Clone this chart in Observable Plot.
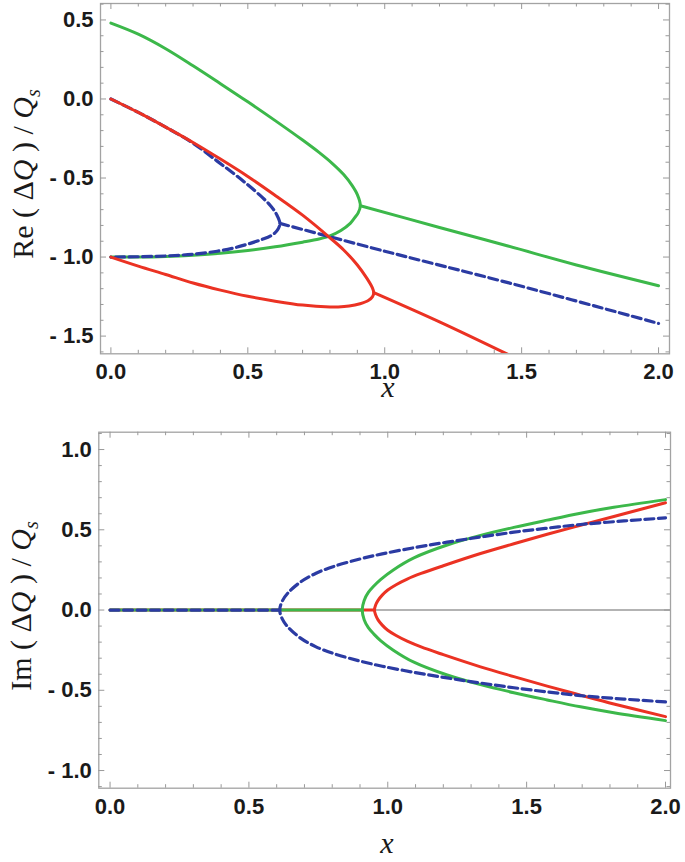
<!DOCTYPE html>
<html>
<head>
<meta charset="utf-8">
<script src="https://cdn.jsdelivr.net/npm/d3@7"></script>
<script src="https://cdn.jsdelivr.net/npm/@observablehq/plot@0.6"></script>
<style>
  html, body { margin: 0; padding: 0; background: #fff; }
  #chart { position: relative; width: 685px; height: 862px; }
  #chart svg { position: absolute; left: 0; }
</style>
</head>
<body>
<div id="chart"></div>
<script>
// ---------- tick values ----------
const xMajor = [0, 0.5, 1, 1.5, 2];
const xMinor = [0.1,0.2,0.3,0.4,0.6,0.7,0.8,0.9,1.1,1.2,1.3,1.4,1.6,1.7,1.8,1.9];
const reYMajor = [-1.5, -1, -0.5, 0, 0.5];
const reYMinor = [-1.6,-1.4,-1.3,-1.2,-1.1,-0.9,-0.8,-0.7,-0.6,-0.4,-0.3,-0.2,-0.1,0.1,0.2,0.3,0.4,0.6];
const imYMajor = [-1, -0.5, 0, 0.5, 1];
const imYMinor = [-1.1,-0.9,-0.8,-0.7,-0.6,-0.4,-0.3,-0.2,-0.1,0.1,0.2,0.3,0.4,0.6,0.7,0.8,0.9,1.1];

// ---------- Re(ΔQ)/Qs : [x, value] ----------
const reGreenLoop = [[0,0.48],[0.1,0.41],[0.2,0.318],[0.3,0.21],[0.4,0.097],[0.5,-0.018],[0.6,-0.137],[0.7,-0.26],[0.76,-0.338],[0.81,-0.41],[0.85,-0.478],[0.88,-0.545],[0.9,-0.605],[0.911,-0.675],[0.903,-0.72],[0.89,-0.752],[0.875,-0.785],[0.84,-0.832],[0.8,-0.866],[0.76,-0.886],[0.7,-0.906],[0.6,-0.935],[0.5,-0.958],[0.4,-0.976],[0.3,-0.988],[0.2,-0.996],[0.1,-1.0],[0,-1.0]];
const reGreenTail = [[0.911,-0.675],[1.2,-0.813],[1.45,-0.93],[1.7,-1.05],[2.0,-1.181]];
const reBlueLoop = [[0,0],[0.1,-0.085],[0.2,-0.178],[0.3,-0.28],[0.388,-0.393],[0.45,-0.474],[0.5,-0.543],[0.55,-0.618],[0.583,-0.675],[0.605,-0.73],[0.617,-0.787],[0.608,-0.83],[0.585,-0.865],[0.55,-0.89],[0.5,-0.918],[0.45,-0.942],[0.388,-0.963],[0.3,-0.982],[0.2,-0.993],[0.1,-0.998],[0,-1.0]];
const reBlueTail = [[0.617,-0.787],[1.0,-0.963],[1.45,-1.162],[2.0,-1.42]];
const reRedLoop = [[0,0],[0.1,-0.085],[0.2,-0.178],[0.3,-0.275],[0.4,-0.38],[0.5,-0.49],[0.6,-0.61],[0.7,-0.735],[0.8,-0.878],[0.85,-0.955],[0.9,-1.05],[0.935,-1.135],[0.955,-1.195],[0.96,-1.225],[0.955,-1.252],[0.94,-1.275],[0.91,-1.295],[0.87,-1.31],[0.83,-1.316],[0.8,-1.316],[0.7,-1.304],[0.6,-1.279],[0.5,-1.248],[0.4,-1.209],[0.3,-1.164],[0.2,-1.11],[0.1,-1.057],[0,-1.0]];
const reRedTail = [[0.96,-1.225],[1.2,-1.41],[1.45,-1.616]];

// ---------- Im(ΔQ)/Qs : [x, value] ----------
const imBlueZero = [[0,0],[0.611,0]];
const imBlueLoop = [[2.0,-0.572],[1.85,-0.555],[1.694,-0.533],[1.574,-0.51],[1.454,-0.484],[1.334,-0.455],[1.214,-0.423],[1.1,-0.39],[0.98,-0.35],[0.9,-0.318],[0.806,-0.272],[0.74,-0.228],[0.686,-0.175],[0.64,-0.105],[0.62,-0.055],[0.611,0],[0.62,0.055],[0.64,0.105],[0.686,0.175],[0.74,0.228],[0.806,0.272],[0.9,0.318],[0.98,0.35],[1.1,0.39],[1.214,0.423],[1.334,0.455],[1.454,0.485],[1.574,0.51],[1.694,0.533],[1.85,0.555],[2.0,0.574]];
const imGreenZero = [[0,0],[0.908,0]];
const imGreenLoop = [[2.0,-0.689],[1.814,-0.64],[1.694,-0.603],[1.574,-0.56],[1.454,-0.515],[1.334,-0.465],[1.214,-0.405],[1.094,-0.325],[1.02,-0.25],[0.974,-0.19],[0.95,-0.15],[0.93,-0.11],[0.915,-0.06],[0.908,0],[0.915,0.06],[0.93,0.11],[0.95,0.15],[0.974,0.19],[1.02,0.25],[1.094,0.325],[1.214,0.405],[1.334,0.465],[1.454,0.515],[1.574,0.56],[1.694,0.603],[1.814,0.64],[2.0,0.688]];
const imRedZero = [[0,0],[0.952,0]];
const imRedLoop = [[2.0,-0.664],[1.814,-0.585],[1.694,-0.53],[1.574,-0.474],[1.454,-0.415],[1.334,-0.354],[1.2,-0.278],[1.12,-0.23],[1.07,-0.194],[1.03,-0.159],[1.0,-0.126],[0.98,-0.094],[0.965,-0.061],[0.956,-0.03],[0.952,0],[0.956,0.03],[0.965,0.06],[0.98,0.093],[1.0,0.125],[1.03,0.158],[1.07,0.193],[1.12,0.228],[1.2,0.276],[1.334,0.352],[1.454,0.413],[1.574,0.472],[1.694,0.528],[1.814,0.583],[2.0,0.668]];

// ---------- styles ----------
const GREEN = "#3cb84a", RED = "#eb3223", BLUE = "#2b3ba3";
const FRAME = "#a3a3a3", TICK = "#999999";
const fmt = d => d < 0 ? "- " + (-d).toFixed(1) : d.toFixed(1);

const solid = (data, color) => Plot.line(data, {x: d => d[0], y: d => d[1], stroke: color, strokeWidth: 3, curve: "catmull-rom", clip: true});
const dashed = (data, color) => Plot.line(data, {x: d => d[0], y: d => d[1], stroke: color, strokeWidth: 3.2, strokeDasharray: "9,4.5", curve: "catmull-rom", clip: true});

function panel({width, height, ml, mr, mt, mb, xDomain, yDomain, yMajor, yMinor, marks}) {
  const fw = width - ml - mr, fh = height - mt - mb;
  const big = 6, small = 3.5;
  return Plot.plot({
    width, height,
    marginLeft: ml, marginRight: mr, marginTop: mt, marginBottom: mb,
    x: {domain: xDomain},
    y: {domain: yDomain},
    style: {fontFamily: "'Liberation Sans', Arial, sans-serif", fontSize: "22px", fontWeight: "bold", background: "transparent", overflow: "visible", color: "#1a1a1a"},
    marks: [
      ...marks,
      Plot.frame({stroke: FRAME, strokeWidth: 1.3}),
      Plot.tickX(xMajor, {x: d => d, stroke: TICK, insetTop: fh - big}),
      Plot.tickX(xMinor, {x: d => d, stroke: TICK, insetTop: fh - small}),
      Plot.tickX(xMajor, {x: d => d, stroke: TICK, insetBottom: fh - big}),
      Plot.tickX(xMinor, {x: d => d, stroke: TICK, insetBottom: fh - small}),
      Plot.tickY(yMajor, {y: d => d, stroke: TICK, insetRight: fw - big}),
      Plot.tickY(yMinor, {y: d => d, stroke: TICK, insetRight: fw - small}),
      Plot.tickY(yMajor, {y: d => d, stroke: TICK, insetLeft: fw - big}),
      Plot.tickY(yMinor, {y: d => d, stroke: TICK, insetLeft: fw - small}),
      Plot.axisX(xMajor, {tickSize: 0, tickPadding: 10, tickFormat: fmt, label: null}),
      Plot.axisY(yMajor, {tickSize: 0, tickPadding: 7, tickFormat: fmt, label: null})
    ]
  });
}

function yTitle(svg, cx, cy, part) {
  const t = d3.select(svg).append("text")
    .attr("transform", `translate(${cx},${cy}) rotate(-90)`)
    .attr("text-anchor", "middle")
    .attr("dy", "0.35em")
    .style("font-family", "'Liberation Serif', 'Times New Roman', serif")
    .style("font-size", "30px")
    .style("font-weight", "normal")
    .attr("fill", "#1a1a1a");
  t.append("tspan").text(part + " ( \u0394");
  t.append("tspan").style("font-style", "italic").text("Q");
  t.append("tspan").text(" ) / ");
  t.append("tspan").style("font-style", "italic").text("Q");
  t.append("tspan").style("font-style", "italic").style("font-size", "20px").attr("dy", 7).text("s");
}
function xTitle(svg, cx, by) {
  d3.select(svg).append("text")
    .attr("x", cx).attr("y", by)
    .attr("text-anchor", "middle")
    .style("font-family", "'Liberation Serif', 'Times New Roman', serif")
    .style("font-size", "30px")
    .style("font-style", "italic")
    .style("font-weight", "normal")
    .attr("fill", "#1a1a1a")
    .text("x");
}

const chart = document.getElementById("chart");

// top panel
const topPanel = panel({
  width: 685, height: 400, ml: 100, mr: 16, mt: 3, mb: 46.7,
  xDomain: [-0.038, 2.04], yDomain: [-1.612, 0.604],
  yMajor: reYMajor, yMinor: reYMinor,
  marks: [
    solid(reGreenLoop, GREEN), solid(reGreenTail, GREEN),
    dashed(reBlueLoop, BLUE), dashed(reBlueTail, BLUE),
    solid(reRedLoop, RED), solid(reRedTail, RED)
  ]
});
topPanel.style.top = "0px";
yTitle(topPanel, 22, 174, "Re");
xTitle(topPanel, 388, 397);
chart.appendChild(topPanel);

// bottom panel
const bottomPanel = panel({
  width: 685, height: 462, ml: 98.3, mr: 15, mt: 31.7, mb: 74.3,
  xDomain: [-0.0405, 2.018], yDomain: [-1.11, 1.108],
  yMajor: imYMajor, yMinor: imYMinor,
  marks: [
    Plot.ruleY([0], {x1: 0, x2: 2.018, stroke: "#9a9a9a", strokeWidth: 1.5}),
    solid(imRedZero, RED), solid(imRedLoop, RED),
    solid(imGreenZero, GREEN), solid(imGreenLoop, GREEN),
    dashed(imBlueZero, BLUE), dashed(imBlueLoop, BLUE)
  ]
});
bottomPanel.style.top = "400px";
yTitle(bottomPanel, 20, 206, "Im");
xTitle(bottomPanel, 387, 453);
chart.appendChild(bottomPanel);
</script>
</body>
</html>
